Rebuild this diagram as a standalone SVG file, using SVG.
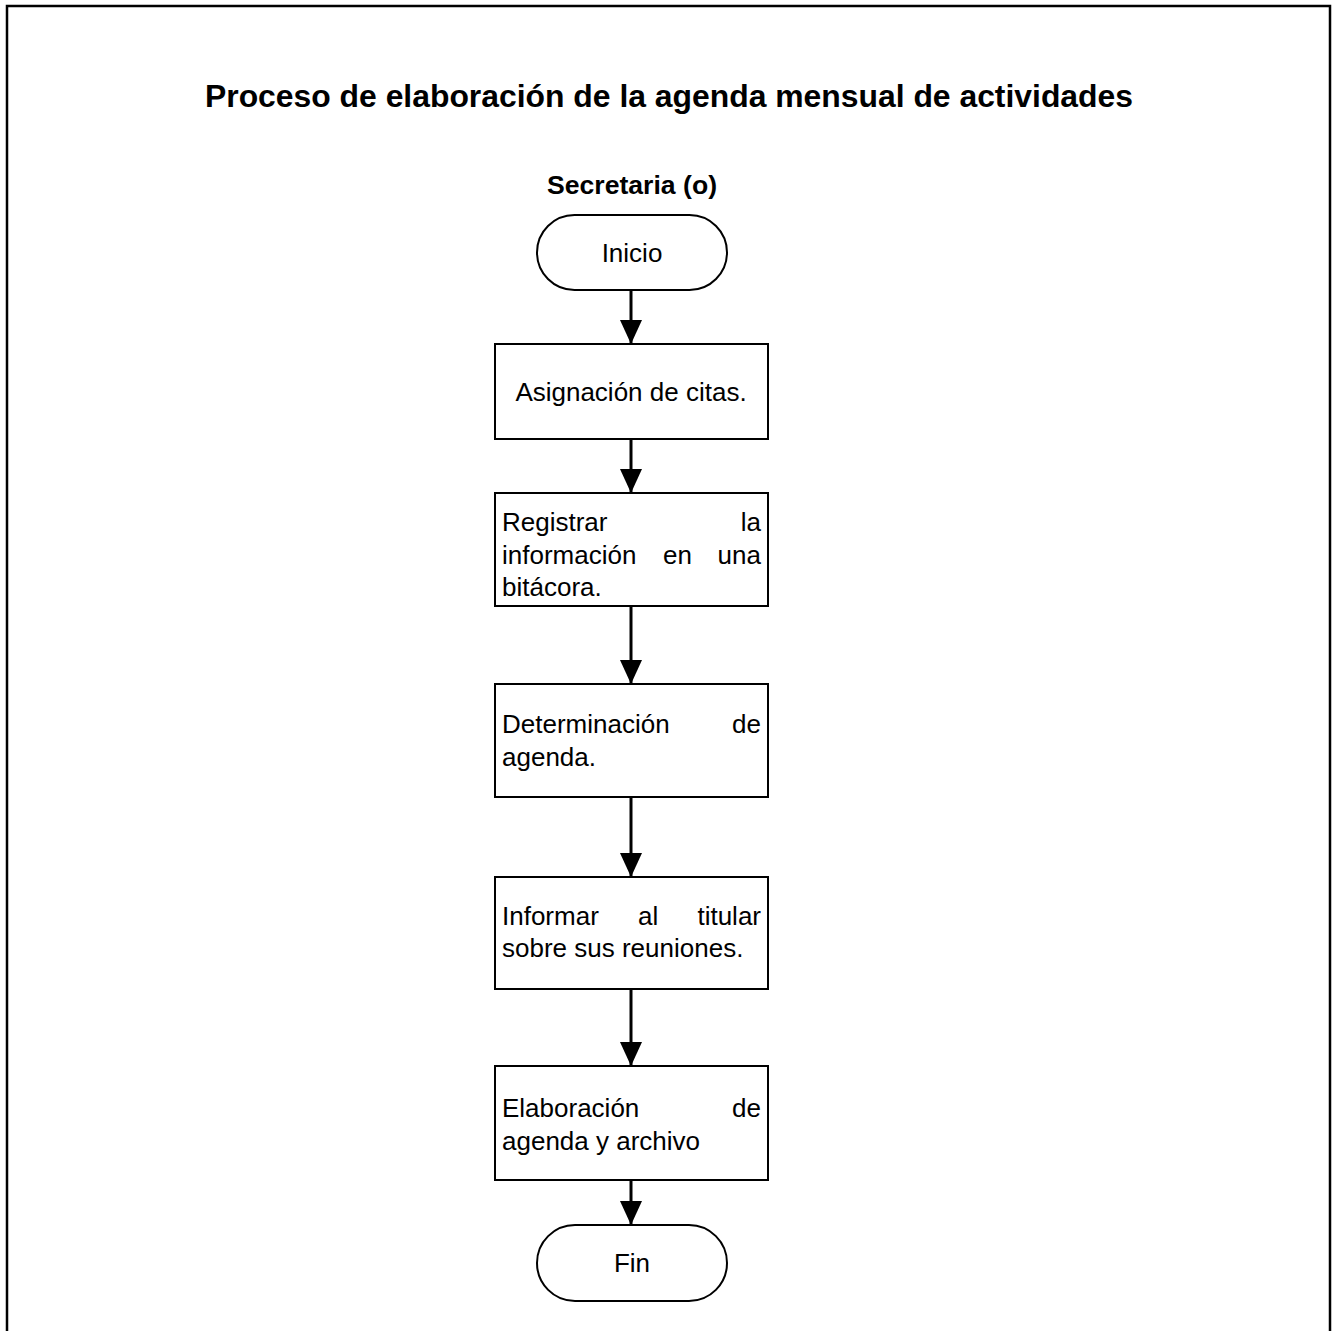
<svg xmlns="http://www.w3.org/2000/svg" width="1337" height="1331" viewBox="0 0 1337 1331">
  <style>
    .frame { fill: none; stroke: #000; stroke-width: 2.5; }
    .shape { fill: #fff; stroke: #000; stroke-width: 2; }
    .link { fill: none; stroke: #000; stroke-width: 3; }
    .title { font-family: "Liberation Sans", Arial, sans-serif; font-weight: bold; font-size: 32px; fill: #000; }
    .lane { font-family: "Liberation Sans", Arial, sans-serif; font-weight: bold; font-size: 26px; fill: #000; }
    .txt { font-family: "Liberation Sans", Arial, sans-serif; font-size: 26px; fill: #000; }
    .mid { text-anchor: middle; }
    .end { text-anchor: end; }
  </style>
  <defs>
    <marker id="arrow" markerUnits="userSpaceOnUse" markerWidth="26" markerHeight="22" refX="24" refY="11" orient="auto">
      <path d="M0,0 L24,11 L0,22 Z" fill="#000"/>
    </marker>
  </defs>

  <rect width="1337" height="1331" fill="#fff"/>
  <!-- page frame (runs past the lower edge) -->
  <rect class="frame" x="7" y="6" width="1323" height="1345"/>

  <text class="title mid" x="669" y="107" textLength="928" lengthAdjust="spacingAndGlyphs">Proceso de elaboración de la agenda mensual de actividades</text>
  <text class="lane mid" x="632" y="194" textLength="170" lengthAdjust="spacingAndGlyphs">Secretaria (o)</text>

  <!-- connectors -->
  <g id="connectors">
    <line class="link" x1="631" y1="290" x2="631" y2="344" marker-end="url(#arrow)"/>
    <line class="link" x1="631" y1="439" x2="631" y2="493" marker-end="url(#arrow)"/>
    <line class="link" x1="631" y1="606" x2="631" y2="684" marker-end="url(#arrow)"/>
    <line class="link" x1="631" y1="797" x2="631" y2="877" marker-end="url(#arrow)"/>
    <line class="link" x1="631" y1="989" x2="631" y2="1066" marker-end="url(#arrow)"/>
    <line class="link" x1="631" y1="1180" x2="631" y2="1225" marker-end="url(#arrow)"/>
  </g>

  <g id="inicio">
    <rect class="shape" x="537" y="215" width="190" height="75" rx="37.5" ry="37.5"/>
    <text class="txt mid" x="632" y="262">Inicio</text>
  </g>

  <g id="asignacion">
    <rect class="shape" x="495" y="344" width="273" height="95"/>
    <text class="txt mid" x="631" y="401">Asignación de citas.</text>
  </g>

  <g id="registrar">
    <rect class="shape" x="495" y="493" width="273" height="113"/>
    <text class="txt" x="502" y="531">Registrar</text>
    <text class="txt end" x="761" y="531">la</text>
    <text class="txt" x="502" y="564">información</text>
    <text class="txt" x="663" y="564">en</text>
    <text class="txt end" x="761" y="564">una</text>
    <text class="txt" x="502" y="596">bitácora.</text>
  </g>

  <g id="determinacion">
    <rect class="shape" x="495" y="684" width="273" height="113"/>
    <text class="txt" x="502" y="733">Determinación</text>
    <text class="txt end" x="761" y="733">de</text>
    <text class="txt" x="502" y="766">agenda.</text>
  </g>

  <g id="informar">
    <rect class="shape" x="495" y="877" width="273" height="112"/>
    <text class="txt" x="502" y="925">Informar</text>
    <text class="txt" x="638" y="925">al</text>
    <text class="txt end" x="761" y="925">titular</text>
    <text class="txt" x="502" y="957">sobre sus reuniones.</text>
  </g>

  <g id="elaboracion">
    <rect class="shape" x="495" y="1066" width="273" height="114"/>
    <text class="txt" x="502" y="1117">Elaboración</text>
    <text class="txt end" x="761" y="1117">de</text>
    <text class="txt" x="502" y="1150">agenda y archivo</text>
  </g>

  <g id="fin">
    <rect class="shape" x="537" y="1225" width="190" height="76" rx="38" ry="38"/>
    <text class="txt mid" x="632" y="1272">Fin</text>
  </g>
</svg>
